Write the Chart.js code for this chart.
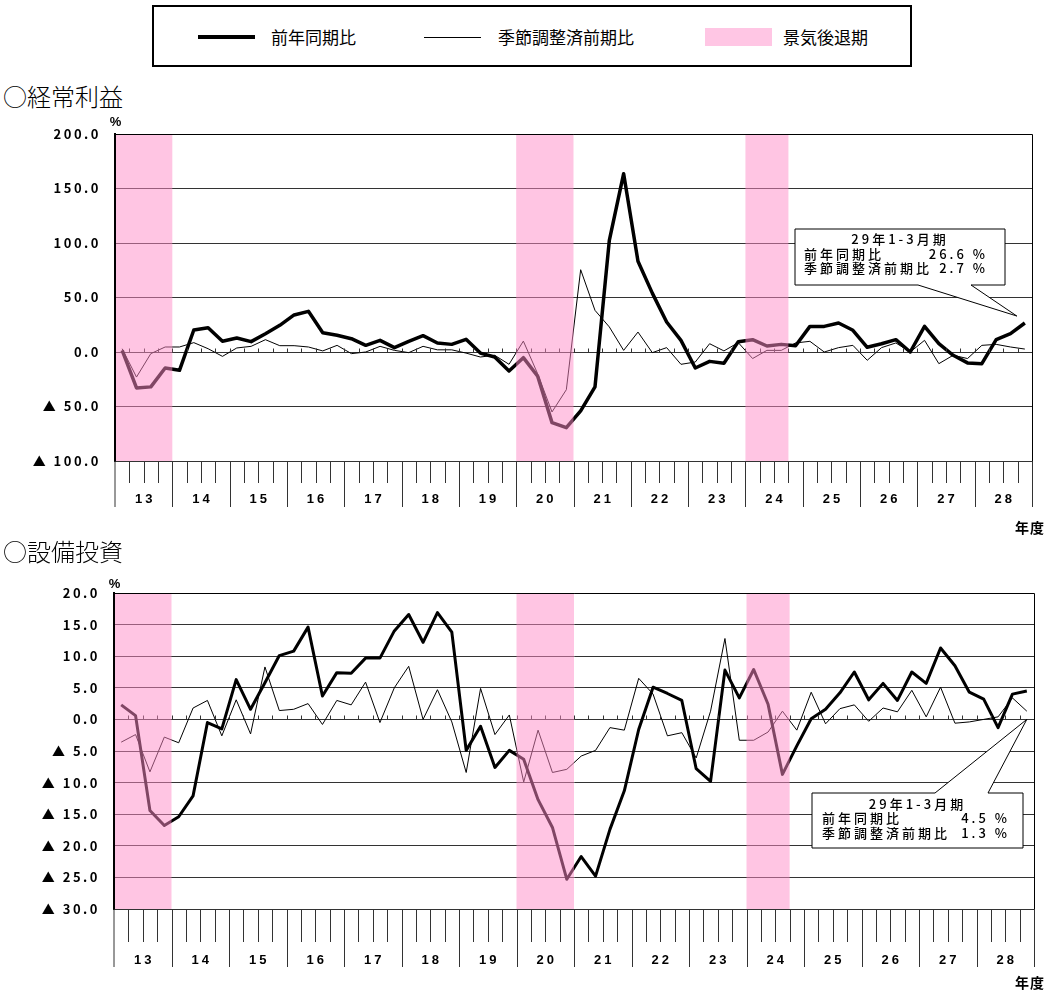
<!DOCTYPE html>
<html lang="ja">
<head>
<meta charset="utf-8">
<script src="https://cdn.jsdelivr.net/npm/chart.js@4.4.1/dist/chart.umd.min.js"></script>
<style>
  body { margin: 0; width: 1047px; height: 991px; position: relative; background: #fff; overflow: hidden;
         font-family: "Noto Sans CJK JP", sans-serif; color: #000; }
  .abs { position: absolute; }
  .legend { left: 152px; top: 5px; width: 760px; height: 62px; border: 2.5px solid #000; box-sizing: border-box; }
  .lg-text { font-size: 17px; line-height: 20px; top: 27px; white-space: nowrap; }
  .title { font-size: 24px; line-height: 28px; left: 3px; font-weight: 300; white-space: nowrap; }
  canvas { position: absolute; left: 0; }
</style>
</head>
<body>
<div class="abs legend"></div>
<div class="abs" style="left:198px; top:35px; width:57px; height:4px; background:#000"></div>
<div class="abs lg-text" style="left:271px">前年同期比</div>
<div class="abs" style="left:424px; top:37px; width:57px; height:1px; background:#000"></div>
<div class="abs lg-text" style="left:498px">季節調整済前期比</div>
<div class="abs" style="left:705px; top:28px; width:67px; height:18px; background:#ffc6e4"></div>
<div class="abs lg-text" style="left:783px">景気後退期</div>

<div class="abs title" style="top:82px">○経常利益</div>
<canvas id="chart-profit" width="1047" height="430" style="top:110px"></canvas>

<div class="abs title" style="top:537px">○設備投資</div>
<canvas id="chart-capex" width="1047" height="426" style="top:565px"></canvas>

<script>
// fiscal years (Heisei) and quarters
const years = ['13', '14', '15', '16', '17', '18', '19', '20', '21', '22', '23', '24', '25', '26', '27', '28'];
const quarterNames = ['4-6月', '7-9月', '10-12月', '1-3月'];
const quarterLabels = years.flatMap(y => quarterNames.map(q => y + '年度' + q));

// recession periods (first and last quarter index)
const recessions = [[0, 3], [28, 31], [44, 46]];

// 経常利益 (%)
const profitYoY = [
  1.5, -33, -32, -14.7,
  -16.8, 20.2, 22.3, 9.8,
  12.8, 9.5, 16.8, 24.5,
  34, 37.3, 17.7, 15.3,
  12.2, 6.1, 10.7, 4,
  9.8, 15, 8.3, 7,
  11.6, -1, -4.6, -17.4,
  -5.2, -22.3, -64.8, -69.4,
  -54, -32, 102.4, 163.6,
  83.2, 54, 27.5, 10.7,
  -14.7, -8.6, -10.4, 9.5,
  11.3, 5.5, 7, 5.8,
  23.5, 23.5, 26.6, 19.9,
  4.3, 7.6, 11.3, 0,
  23.5, 7.6, -3, -10,
  -10.7, 11.3, 16.8, 26.6
];
const profitSA = [
  3, -23, -1.5, 4.6,
  4.6, 8.6, 3, -4,
  3.7, 5.2, 11.3, 5.8,
  5.8, 4.6, 1, 6.1,
  -1.5, 0, 5.2, 1.5,
  -0.6, 5.2, 2, 2,
  -1, -4.6, -3, -11.3,
  10, -20, -55, -34.6,
  75.5, 38.2, 23, 1.5,
  18.3, -0.6, 4, -11.3,
  -9.2, 7.6, 1, 8.6,
  -6, 1.5, 1.5, 8.3,
  9.8, 0, 4, 6.1,
  -7.6, 4, 8.3, 0,
  10.7, -10.7, -3, -6,
  6.1, 7, 4.6, 2.7
];

// 設備投資 (%)
const capexYoY = [
  2.3, 0.6, -14.4, -16.8,
  -15.4, -12.1, -0.5, -1.5,
  6.3, 1.6, 5.8, 10.1,
  10.8, 14.6, 3.7, 7.4,
  7.3, 9.7, 9.7, 14,
  16.6, 12.2, 16.9, 13.8,
  -4.9, -1.1, -7.6, -4.9,
  -6.3, -12.7, -17.1, -25.3,
  -21.7, -24.8, -17.4, -11.3,
  -1.6, 5.1, 4.1, 3,
  -7.8, -9.8, 7.8, 3.4,
  7.9, 2.4, -8.7, -4.2,
  0.1, 1.6, 4.2, 7.5,
  3.1, 5.7, 3, 7.5,
  5.7, 11.3, 8.5, 4.3,
  3.2, -1.3, 4, 4.5
];
const capexSA = [
  -3.6, -2.4, -8.3, -2.8,
  -3.7, 1.8, 3, -2.6,
  3.1, -2.3, 8.3, 1.4,
  1.6, 2.5, -0.8, 3,
  2.3, 5.9, -0.5, 5,
  8.4, 0, 4.7, -0.4,
  -8.4, 4.9, -2.4, 0.7,
  -9.9, -1.7, -8.4, -7.9,
  -5.8, -4.9, -1.3, -1.7,
  6.5, 4, -2.6, -2.1,
  -6.1, 1.3, 12.8, -3.3,
  -3.3, -2, 1.3, -1.7,
  4.3, -0.7, 1.7, 2.3,
  -0.3, 1.8, 1.2, 4.6,
  0.4, 5.1, -0.6, -0.4,
  0, 0.4, 3.4, 1.3
];

const noteTitle = '29年1-3月期';
const numFont = '"Liberation Sans", Arial, sans-serif';
const jpFont = '"Noto Sans CJK JP", sans-serif';

// bands, frame, quarter ticks, year labels and the callout box
const panelDecor = {
  id: 'panelDecor',
  beforeDraw(chart) {
    // numbers in the original are set wide
    chart.ctx.letterSpacing = '2.5px';
  },
  afterDatasetsDraw(chart, args, o) {
    const { ctx, chartArea: a, scales: { x, y } } = chart;
    const cw = x.getPixelForValue(1) - x.getPixelForValue(0);
    const y0 = Math.round(y.getPixelForValue(0)) + 0.5;
    ctx.save();
    // small ticks on the zero line
    ctx.strokeStyle = '#333';
    ctx.lineWidth = 1;
    ctx.beginPath();
    for (let i = 1; i < quarterLabels.length; i++) {
      const bx = Math.round(a.left + i * cw) + 0.5;
      ctx.moveTo(bx, y0 - 4);
      ctx.lineTo(bx, y0);
    }
    ctx.stroke();
    // recession bands on top, semi transparent
    ctx.fillStyle = 'rgba(255,140,200,0.5)';
    recessions.forEach(([s, e]) => {
      const x0 = x.getPixelForValue(s) - cw / 2;
      const x1 = x.getPixelForValue(e) + cw / 2;
      ctx.fillRect(x0, a.top, x1 - x0, a.bottom - a.top);
    });
    // frame
    ctx.strokeStyle = '#000';
    ctx.lineWidth = 1;
    ctx.beginPath();
    ctx.moveTo(a.left, a.top + 0.5);
    ctx.lineTo(Math.round(a.right) + 0.5, a.top + 0.5);
    ctx.lineTo(Math.round(a.right) + 0.5, a.bottom);
    ctx.stroke();
    ctx.lineWidth = 2;
    ctx.beginPath();
    ctx.moveTo(a.left, a.top);
    ctx.lineTo(a.left, a.bottom);
    ctx.stroke();
    ctx.restore();
  },
  afterDraw(chart, args, o) {
    const { ctx, chartArea: a, scales: { x, y } } = chart;
    const cw = x.getPixelForValue(1) - x.getPixelForValue(0);
    ctx.save();
    // axis below the plot
    ctx.strokeStyle = '#333';
    ctx.lineWidth = 1;
    ctx.beginPath();
    for (let i = 0; i <= quarterLabels.length; i++) {
      const bx = Math.round(a.left + i * cw) + (i === 0 ? 0 : 0.5);
      ctx.moveTo(bx, a.bottom);
      ctx.lineTo(bx, a.bottom + (i % 4 === 0 ? o.longTick : o.shortTick));
    }
    ctx.stroke();
    ctx.fillStyle = '#000';
    ctx.letterSpacing = '3px';
    ctx.font = 'bold 13px ' + numFont;
    ctx.textAlign = 'center';
    ctx.textBaseline = 'middle';
    years.forEach((yr, k) => {
      ctx.fillText(yr, a.left + (k * 4 + 2) * cw + 1.5, a.bottom + o.labelY);
    });
    ctx.fillText('%', a.left + 2, a.top - o.pctGap);
    ctx.letterSpacing = '1px';
    ctx.font = 'bold 14px ' + jpFont;
    ctx.textAlign = 'right';
    ctx.fillText('年度', chart.width - 2, a.bottom + o.unitY);

    // callout box
    const b = o.box;
    const lastX = x.getPixelForValue(quarterLabels.length - 1);
    const tip = [lastX + o.tipDx, y.getPixelForValue(o.tipValue)];
    ctx.beginPath();
    if (o.tipFrom === 'bottom') {
      ctx.moveTo(b.x, b.y);
      ctx.lineTo(b.x + b.w, b.y);
      ctx.lineTo(b.x + b.w, b.y + b.h);
      ctx.lineTo(b.x + o.gap[1], b.y + b.h);
      ctx.lineTo(tip[0], tip[1]);
      ctx.lineTo(b.x + o.gap[0], b.y + b.h);
      ctx.lineTo(b.x, b.y + b.h);
    } else {
      ctx.moveTo(b.x, b.y);
      ctx.lineTo(b.x + o.gap[0], b.y);
      ctx.lineTo(tip[0], tip[1]);
      ctx.lineTo(b.x + o.gap[1], b.y);
      ctx.lineTo(b.x + b.w, b.y);
      ctx.lineTo(b.x + b.w, b.y + b.h);
      ctx.lineTo(b.x, b.y + b.h);
    }
    ctx.closePath();
    ctx.fillStyle = '#fff';
    ctx.fill();
    ctx.strokeStyle = '#000';
    ctx.lineWidth = 1;
    ctx.stroke();

    ctx.fillStyle = '#000';
    ctx.font = '500 13px ' + jpFont;
    ctx.letterSpacing = '3px';
    ctx.textBaseline = 'middle';
    ctx.textAlign = 'center';
    ctx.fillText(noteTitle, b.x + b.w / 2, b.y + o.rows[0]);
    ctx.textAlign = 'left';
    ctx.fillText(chart.data.datasets[0].label, b.x + o.textX, b.y + o.rows[1]);
    ctx.fillText(chart.data.datasets[1].label, b.x + o.textX, b.y + o.rows[2]);
    ctx.textAlign = 'right';
    const ds = chart.data.datasets;
    ctx.fillText(ds[0].data[ds[0].data.length - 1].toFixed(1) + ' %', b.x + b.w - o.valR, b.y + o.rows[1]);
    ctx.fillText(ds[1].data[ds[1].data.length - 1].toFixed(1) + ' %', b.x + b.w - o.valR, b.y + o.rows[2]);
    ctx.restore();
  }
};

function tickLabel(v) {
  return v < 0 ? '▲ ' + Math.abs(v).toFixed(1) : v.toFixed(1);
}

function makeChart(id, yoy, sa, yMin, yMax, step, pad, leftW, thick, decor) {
  return new Chart(document.getElementById(id), {
    type: 'line',
    data: {
      labels: quarterLabels,
      datasets: [
        { label: '前年同期比', data: yoy, borderColor: '#000', borderWidth: thick,
          pointRadius: 0, tension: 0, borderJoinStyle: 'round' },
        { label: '季節調整済前期比', data: sa, borderColor: '#000', borderWidth: 1,
          pointRadius: 0, tension: 0 }
      ]
    },
    options: {
      responsive: false,
      animation: false,
      devicePixelRatio: 1,
      layout: { padding: pad },
      plugins: {
        legend: { display: false },
        tooltip: { enabled: false },
        panelDecor: decor
      },
      scales: {
        x: { type: 'category', offset: true, display: false },
        y: {
          min: yMin, max: yMax,
          ticks: { stepSize: step, callback: tickLabel, color: '#000', padding: 14,
                   font: { family: jpFont, size: 13, weight: 'bold' } },
          grid: { color: '#333', drawTicks: false },
          border: { color: '#000', width: 2 },
          afterFit(s) { s.width = leftW; }
        }
      }
    },
    plugins: [panelDecor]
  });
}

makeChart('chart-profit', profitYoY, profitSA, -100, 200, 50,
  { top: 24, right: 15, bottom: 79, left: 0 }, 115, 3.5,
  { shortTick: 22, longTick: 46, labelY: 38, unitY: 67, pctGap: 12,
    box: { x: 795, y: 119, w: 210, h: 56 }, tipFrom: 'bottom', gap: [123, 176],
    tipDx: -8, tipValue: 33, rows: [10, 25, 39], textX: 9, valR: 17 });

makeChart('chart-capex', capexYoY, capexSA, -30, 20, 5,
  { top: 28, right: 13, bottom: 82, left: 0 }, 114, 3,
  { shortTick: 33, longTick: 58, labelY: 51, unitY: 74, pctGap: 9,
    box: { x: 812, y: 228, w: 211, h: 55 }, tipFrom: 'top', gap: [123, 176],
    tipDx: 0, tipValue: 0, rows: [11, 25, 40], textX: 10, valR: 13 });
</script>
</body>
</html>
